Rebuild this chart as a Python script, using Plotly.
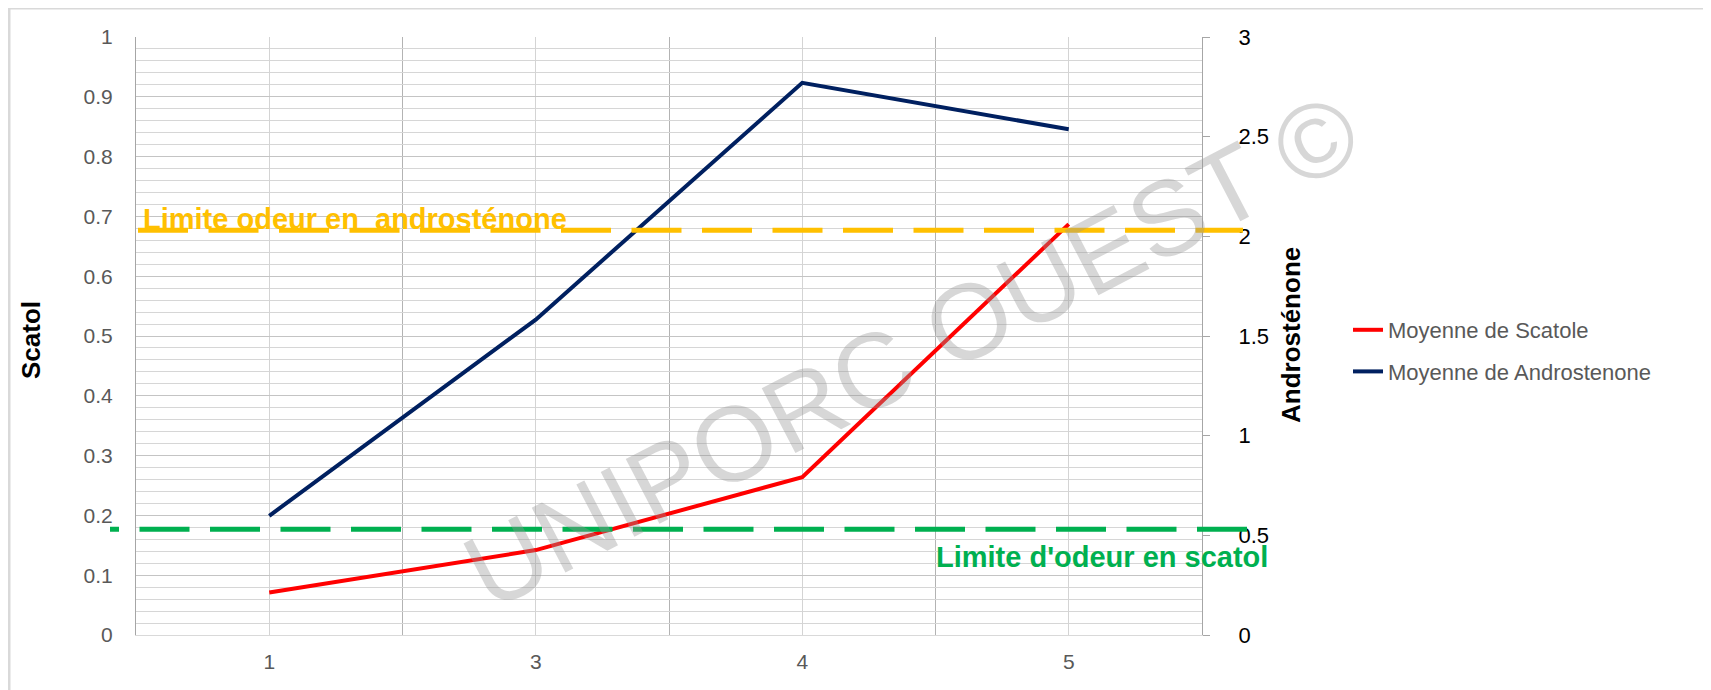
import plotly.graph_objects as go

# ---- data ----
categories = ["1", "3", "4", "5"]
scatole = [0.071, 0.142, 0.264, 0.687]          # left axis (Scatol)
androstenone = [0.598, 1.582, 2.77, 2.537]      # right axis (Androsténone)
limite_scatol = 0.177                           # left-axis value of green dashed line
limite_androstenone = 2.03                      # right-axis value of orange dashed line
left_ticks = [0, 0.1, 0.2, 0.3, 0.4, 0.5, 0.6, 0.7, 0.8, 0.9, 1]
left_ticktext = ["0", "0.1", "0.2", "0.3", "0.4", "0.5", "0.6", "0.7", "0.8", "0.9", "1"]
right_ticks = [0, 0.5, 1, 1.5, 2, 2.5, 3]
right_ticktext = ["0", "0.5", "1", "1.5", "2", "2.5", "3"]

x_pos = list(range(1, len(categories) + 1))
boundaries = [p - 0.5 for p in x_pos] + [x_pos[-1] + 0.5]

OFF = 8                       # page body margin
W, H = 1711 - OFF, 690 - OFF
# plot area in page pixels
L, R, T, B = 136, 1202, 37, 635


def px_x(px):
    return (px - L) / (R - L)


def px_y(py):
    return (B - py) / (B - T)


FONT = "Liberation Sans, Arial, sans-serif"
GRAY_TXT = "#595959"

fig = go.Figure()
fig.add_trace(go.Scatter(
    x=x_pos, y=scatole, name="Moyenne de Scatole", mode="lines",
    line=dict(color="#FF0000", width=4), yaxis="y", legendgroup="a"))
fig.add_trace(go.Scatter(
    x=x_pos, y=androstenone, name="Moyenne de Androstenone", mode="lines",
    line=dict(color="#002060", width=4), yaxis="y2", legendgroup="b"))

shapes = [
    # outer light border of the chart
    dict(type="rect", xref="paper", yref="paper",
         x0=px_x(9), x1=px_x(1760), y0=px_y(740), y1=px_y(8),
         line=dict(color="#d9d9d9", width=3), fillcolor="rgba(0,0,0,0)", layer="below"),
    # androsténone limit (orange)
    dict(type="line", xref="paper", yref="y2",
         x0=px_x(138), x1=px_x(1243), y0=limite_androstenone, y1=limite_androstenone,
         line=dict(color="#FFC000", width=5, dash="50px,20.5px"), layer="above"),
    # scatol limit (green) – drawn right to left to match dash phase
    dict(type="line", xref="paper", yref="y",
         x0=px_x(1247), x1=px_x(110), y0=limite_scatol, y1=limite_scatol,
         line=dict(color="#00B050", width=5, dash="50px,20.5px"), layer="above"),
]

annotations = [
    dict(text="<b>Limite odeur en  androsténone</b>", xref="paper", yref="paper",
         x=px_x(141), y=px_y(219), xanchor="left", yanchor="middle", showarrow=False,
         font=dict(family=FONT, size=29, color="#FFC000")),
    dict(text="<b>Limite d'odeur en scatol</b>", xref="paper", yref="paper",
         x=px_x(934), y=px_y(557), xanchor="left", yanchor="middle", showarrow=False,
         font=dict(family=FONT, size=29, color="#00B050")),
    dict(text="<b>Scatol</b>", xref="paper", yref="paper",
         x=px_x(31), y=px_y(340), xanchor="center", yanchor="middle", showarrow=False,
         textangle=-90, font=dict(family=FONT, size=26, color="#000000")),
    dict(text="<b>Androsténone</b>", xref="paper", yref="paper",
         x=px_x(1291), y=px_y(335), xanchor="center", yanchor="middle", showarrow=False,
         textangle=-90, font=dict(family=FONT, size=26, color="#000000")),
    dict(text="UNIPORC OUEST ©", xref="paper", yref="paper",
         x=px_x(911), y=px_y(351), xanchor="center", yanchor="middle", showarrow=False,
         textangle=-27.5, font=dict(family=FONT, size=106, color="rgba(150,150,150,0.38)")),
]

fig.update_layout(
    width=W, height=H,
    margin=dict(l=L - OFF, r=W - (R - OFF), t=T - OFF, b=H - (B - OFF), pad=0),
    paper_bgcolor="white", plot_bgcolor="white",
    shapes=shapes, annotations=annotations,
    showlegend=True,
    legend=dict(x=px_x(1348), y=px_y(351), xanchor="left", yanchor="middle",
                font=dict(family=FONT, size=22, color=GRAY_TXT),
                tracegroupgap=10, bgcolor="rgba(0,0,0,0)"),
    xaxis=dict(range=[0.5, len(categories) + 0.5], tickmode="array",
               tickvals=x_pos, ticktext=categories,
               showgrid=True, gridcolor="#d4d4d4", gridwidth=1,
               minor=dict(tickmode="array", tickvals=boundaries, showgrid=True,
                          gridcolor="#b3b3b3", gridwidth=1),
               showline=True, linecolor="#d9d9d9", linewidth=1,
               ticks="", ticklabelstandoff=8, zeroline=False,
               tickfont=dict(family=FONT, size=21, color=GRAY_TXT)),
    yaxis=dict(range=[0, 1], tickmode="array", tickvals=left_ticks, ticktext=left_ticktext,
               showgrid=True, gridcolor="#c4c4c4", gridwidth=1,
               minor=dict(dtick=0.02, showgrid=True, gridcolor="#d6d6d6", gridwidth=1),
               showline=True, linecolor="#a6a6a6", linewidth=1, zeroline=False,
               ticks="", ticklabelstandoff=18,
               tickfont=dict(family=FONT, size=21, color=GRAY_TXT)),
    yaxis2=dict(range=[0, 3], overlaying="y", side="right", anchor="x",
                tickmode="array", tickvals=right_ticks, ticktext=right_ticktext,
                showgrid=False, zeroline=False,
                showline=True, linecolor="#a6a6a6", linewidth=1,
                ticks="outside", ticklen=7, tickcolor="#a6a6a6", ticklabelstandoff=24,
                tickfont=dict(family=FONT, size=22, color="#000000")),
)

fig.write_html("out.html")
